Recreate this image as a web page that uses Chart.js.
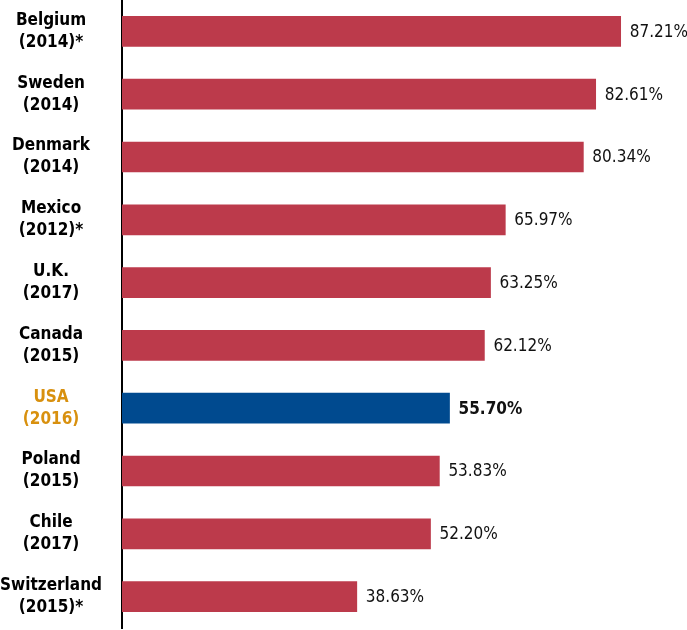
<!DOCTYPE html>
<html>
<head>
<meta charset="utf-8">
<script src="https://cdn.jsdelivr.net/npm/chart.js@4/dist/chart.umd.min.js"></script>
<style>
  html, body { margin: 0; padding: 0; background: #fff; }
  #wrap { width: 687px; height: 630px; }
</style>
</head>
<body>
<div id="wrap"><canvas id="chart"></canvas></div>
<script>
// data
const countries = [
    ["Belgium", "(2014)*"],
    ["Sweden", "(2014)"],
    ["Denmark", "(2014)"],
    ["Mexico", "(2012)*"],
    ["U.K.", "(2017)"],
    ["Canada", "(2015)"],
    ["USA", "(2016)"],
    ["Poland", "(2015)"],
    ["Chile", "(2017)"],
    ["Switzerland", "(2015)*"],
];
const shares = [87.21, 82.61, 80.34, 65.97, 63.25, 62.12, 55.7, 53.83, 52.2, 38.63];
const highlight = "USA";

const RED = "#BC3A4B";
const BLUE = "#004A8F";
const GOLD = "#D8900E";
const FONT = "'DejaVu Sans Condensed', 'Liberation Sans Narrow', sans-serif";

const isHighlight = (i) => countries[i][0] === highlight;

// value labels at the end of each bar
const valueLabels = {
    id: "valueLabels",
    afterDatasetsDraw(chart) {
        const ctx = chart.ctx;
        const meta = chart.getDatasetMeta(0);
        ctx.save();
        ctx.textBaseline = "middle";
        ctx.textAlign = "left";
        meta.data.forEach((bar, i) => {
            ctx.fillStyle = "#111";
            ctx.font = (isHighlight(i) ? "bold " : "") + "17px " + FONT;
            ctx.fillText(shares[i].toFixed(2) + "%", bar.x + 9, bar.y + 1);
        });
        ctx.restore();
    },
};

new Chart(document.getElementById("chart"), {
    type: "bar",
    data: {
        labels: countries,
        datasets: [
            {
                data: shares,
                base: -4.6,
                backgroundColor: countries.map((c, i) => (isHighlight(i) ? BLUE : RED)),
                barThickness: 30,
                borderWidth: 0,
            },
        ],
    },
    options: {
        indexAxis: "y",
        responsive: true,
        maintainAspectRatio: false,
        animation: false,
        layout: { padding: { top: 0, right: 24, bottom: 2, left: 0 } },
        scales: {
            x: {
                min: -4.6,
                max: 95,
                display: false,
            },
            y: {
                grid: { display: false, drawTicks: false },
                border: { display: true, color: "#000", width: 2 },
                afterFit(scale) {
                    scale.width = 122;
                    scale.paddingTop = 0;
                    scale.paddingBottom = 0;
                },
                ticks: {
                    crossAlign: "center",
                    padding: 20,
                    color: (ctx) => (isHighlight(ctx.index) ? GOLD : "#000"),
                    font: { family: FONT, size: 17, weight: "bold", lineHeight: 1.3 },
                },
            },
        },
        plugins: {
            legend: { display: false },
            tooltip: { enabled: false },
        },
    },
    plugins: [valueLabels],
});
</script>
</body>
</html>
